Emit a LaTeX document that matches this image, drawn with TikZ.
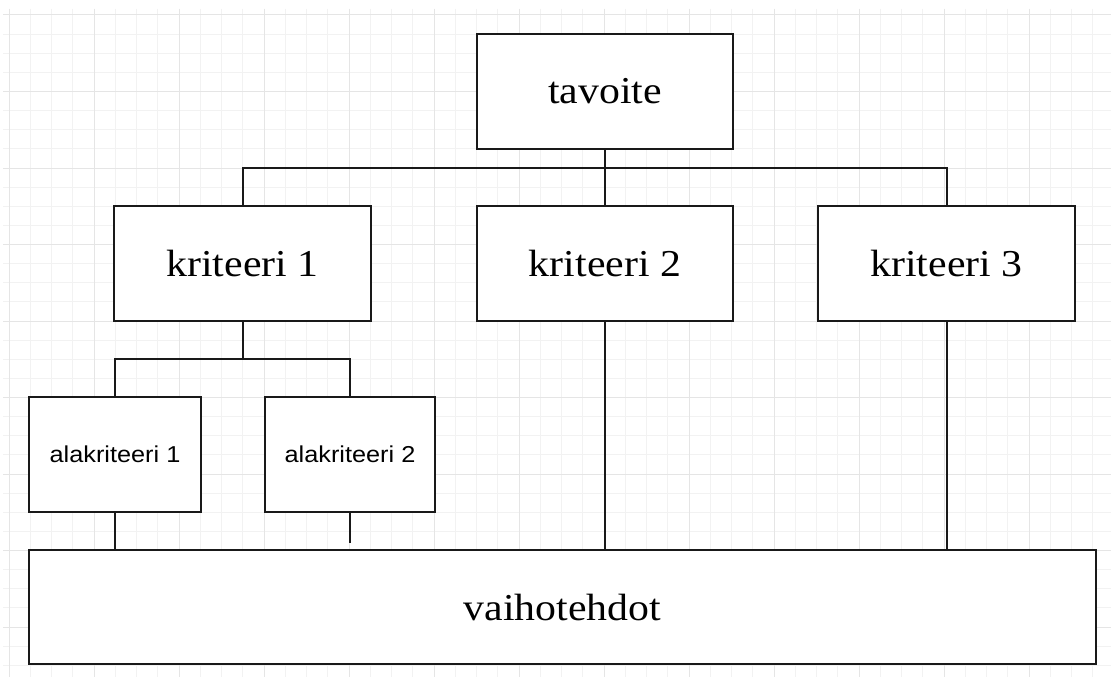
\documentclass[tikz,border=0pt]{standalone}
\usepackage{fontspec}
\setmainfont{Liberation Serif}[FakeStretch=1.1]
\setsansfont{Liberation Sans}[FakeStretch=1.1]
\begin{document}
\begin{tikzpicture}[x=1pt,y=-1pt,
  minorgrid/.style={draw=black!5,line width=1pt},
  majorgrid/.style={draw=black!10,line width=1pt},
  boxnode/.style={draw=black!90,line width=2pt,fill=white,inner sep=0pt,
    minimum height=115pt,font=\fontsize{38}{40}\selectfont},
  subnode/.style={boxnode,font=\sffamily\fontsize{23}{25}\selectfont},
  link/.style={draw=black!90,line width=2pt}]
\useasboundingbox[fill=white] (0,0) rectangle (1111,677);
\begin{scope}
\clip (3,9) rectangle (1111,677);
\foreach \i in {0,...,51} {\draw[minorgrid] ({9+21.25*\i},9) -- ({9+21.25*\i},677);}
\foreach \j in {0,...,34} {\draw[minorgrid] (3,{15+19.125*\j}) -- (1111,{15+19.125*\j});}
\foreach \i in {0,...,12} {\draw[majorgrid] ({9+85*\i},9) -- ({9+85*\i},677);}
\foreach \j in {0,...,8} {\draw[majorgrid] (3,{15+76.5*\j}) -- (1111,{15+76.5*\j});}
\end{scope}

\node[boxnode,minimum width=256pt] (t) at (605,91.5) {tavoite};
\node[boxnode,minimum width=257pt] (k1) at (242.5,263.5) {kriteeri 1};
\node[boxnode,minimum width=256pt] (k2) at (605,263.5) {kriteeri 2};
\node[boxnode,minimum width=257pt] (k3) at (946.5,263.5) {kriteeri 3};
\node[subnode,minimum width=172pt] (a1) at (115,454.5) {alakriteeri 1};
\node[subnode,minimum width=170pt] (a2) at (350,454.5) {alakriteeri 2};
\node[boxnode,minimum width=1067pt,minimum height=114pt] (v) at (562.5,607) {vaihotehdot};

\coordinate (bus) at (605,168);
\coordinate (sbus) at (243,359);

\draw[link] (t.south) -- (k2.north);
\draw[link] (k1.north) -- (k1.north |- bus) -- (k3.north |- bus) -- (k3.north);
\draw[link] (k1.south) -- (k1.south |- sbus);
\draw[link] (a1.north) -- (a1.north |- sbus) -- (a2.north |- sbus) -- (a2.north);
\draw[link] (a1.south) -- (a1.south |- v.north);
\draw[link,shorten >=6pt] (a2.south) -- (a2.south |- v.north);
\draw[link] (k2.south) -- (k2.south |- v.north);
\draw[link] (k3.south) -- (k3.south |- v.north);
\end{tikzpicture}
\end{document}
